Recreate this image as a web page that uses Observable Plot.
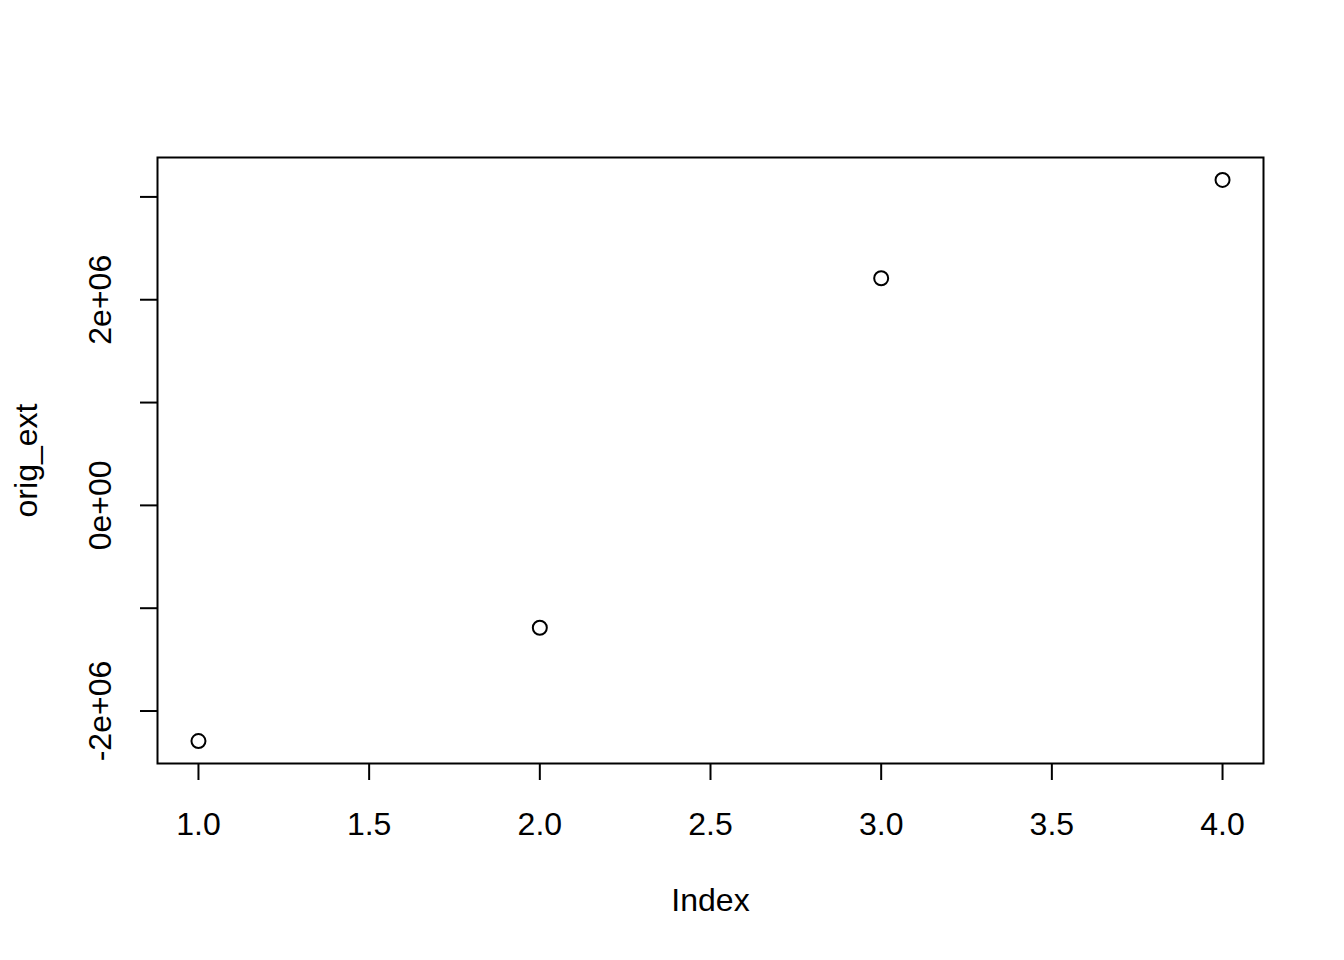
<!DOCTYPE html>
<html><head><meta charset="utf-8">
<script src="https://cdn.jsdelivr.net/npm/d3@7"></script>
<script src="https://cdn.jsdelivr.net/npm/@observablehq/plot@0.6"></script>
<style>body{margin:0;background:#fff} svg{display:block}</style>
</head><body><div id="chart"></div>
<script>
const index = [1, 2, 3, 4];
const origExt = [-2292000, -1190000, 2209000, 3165000];
const xTicks = [1, 1.5, 2, 2.5, 3, 3.5, 4];
const xTickLabels = ["1.0", "1.5", "2.0", "2.5", "3.0", "3.5", "4.0"];
const yTicks = [-2e6, -1e6, 0, 1e6, 2e6, 3e6];
const yTickLabels = ["-2e+06", "", "0e+00", "", "2e+06", ""];
const xTitle = "Index";
const yTitle = "orig_ext";

const data = index.map((x, i) => ({x, y: origExt[i]}));
function pad(ext) { const r = ext[1] - ext[0]; return [ext[0] - 0.04 * r, ext[1] + 0.04 * r]; }

const chart = Plot.plot({
  width: 1344, height: 960,
  marginLeft: 157, marginRight: 81, marginTop: 157, marginBottom: 197,
  style: {fontFamily: "'Liberation Sans', Arial, Helvetica, sans-serif", fontSize: "32px", color: "black", background: "white"},
  x: {domain: pad(d3.extent(index)), axis: null},
  y: {domain: pad(d3.extent(origExt)), axis: null},
  marks: [
    Plot.frame({stroke: "black", strokeWidth: 2}),
    Plot.axisX(xTicks, {anchor: "bottom", tickSize: 17, tickPadding: 32, strokeWidth: 2, fontSize: 32,
      tickFormat: d => xTickLabels[xTicks.indexOf(d)], label: null}),
    Plot.axisY(yTicks, {anchor: "left", tickSize: 17, tickPadding: 30, tickRotate: -90, strokeWidth: 2, fontSize: 32,
      tickFormat: d => yTickLabels[yTicks.indexOf(d)], label: null}),
    Plot.text([xTitle], {text: d => d, frameAnchor: "bottom", dy: 125, lineAnchor: "top", fontSize: 32}),
    Plot.text([yTitle], {text: d => d, frameAnchor: "left", dx: -121, rotate: -90, lineAnchor: "bottom", textAnchor: "middle", fontSize: 32}),
    Plot.dot(data, {x: "x", y: "y", r: 7, stroke: "black", strokeWidth: 2, fill: "none"})
  ]
});
document.getElementById("chart").appendChild(chart);
</script>
</body></html>
